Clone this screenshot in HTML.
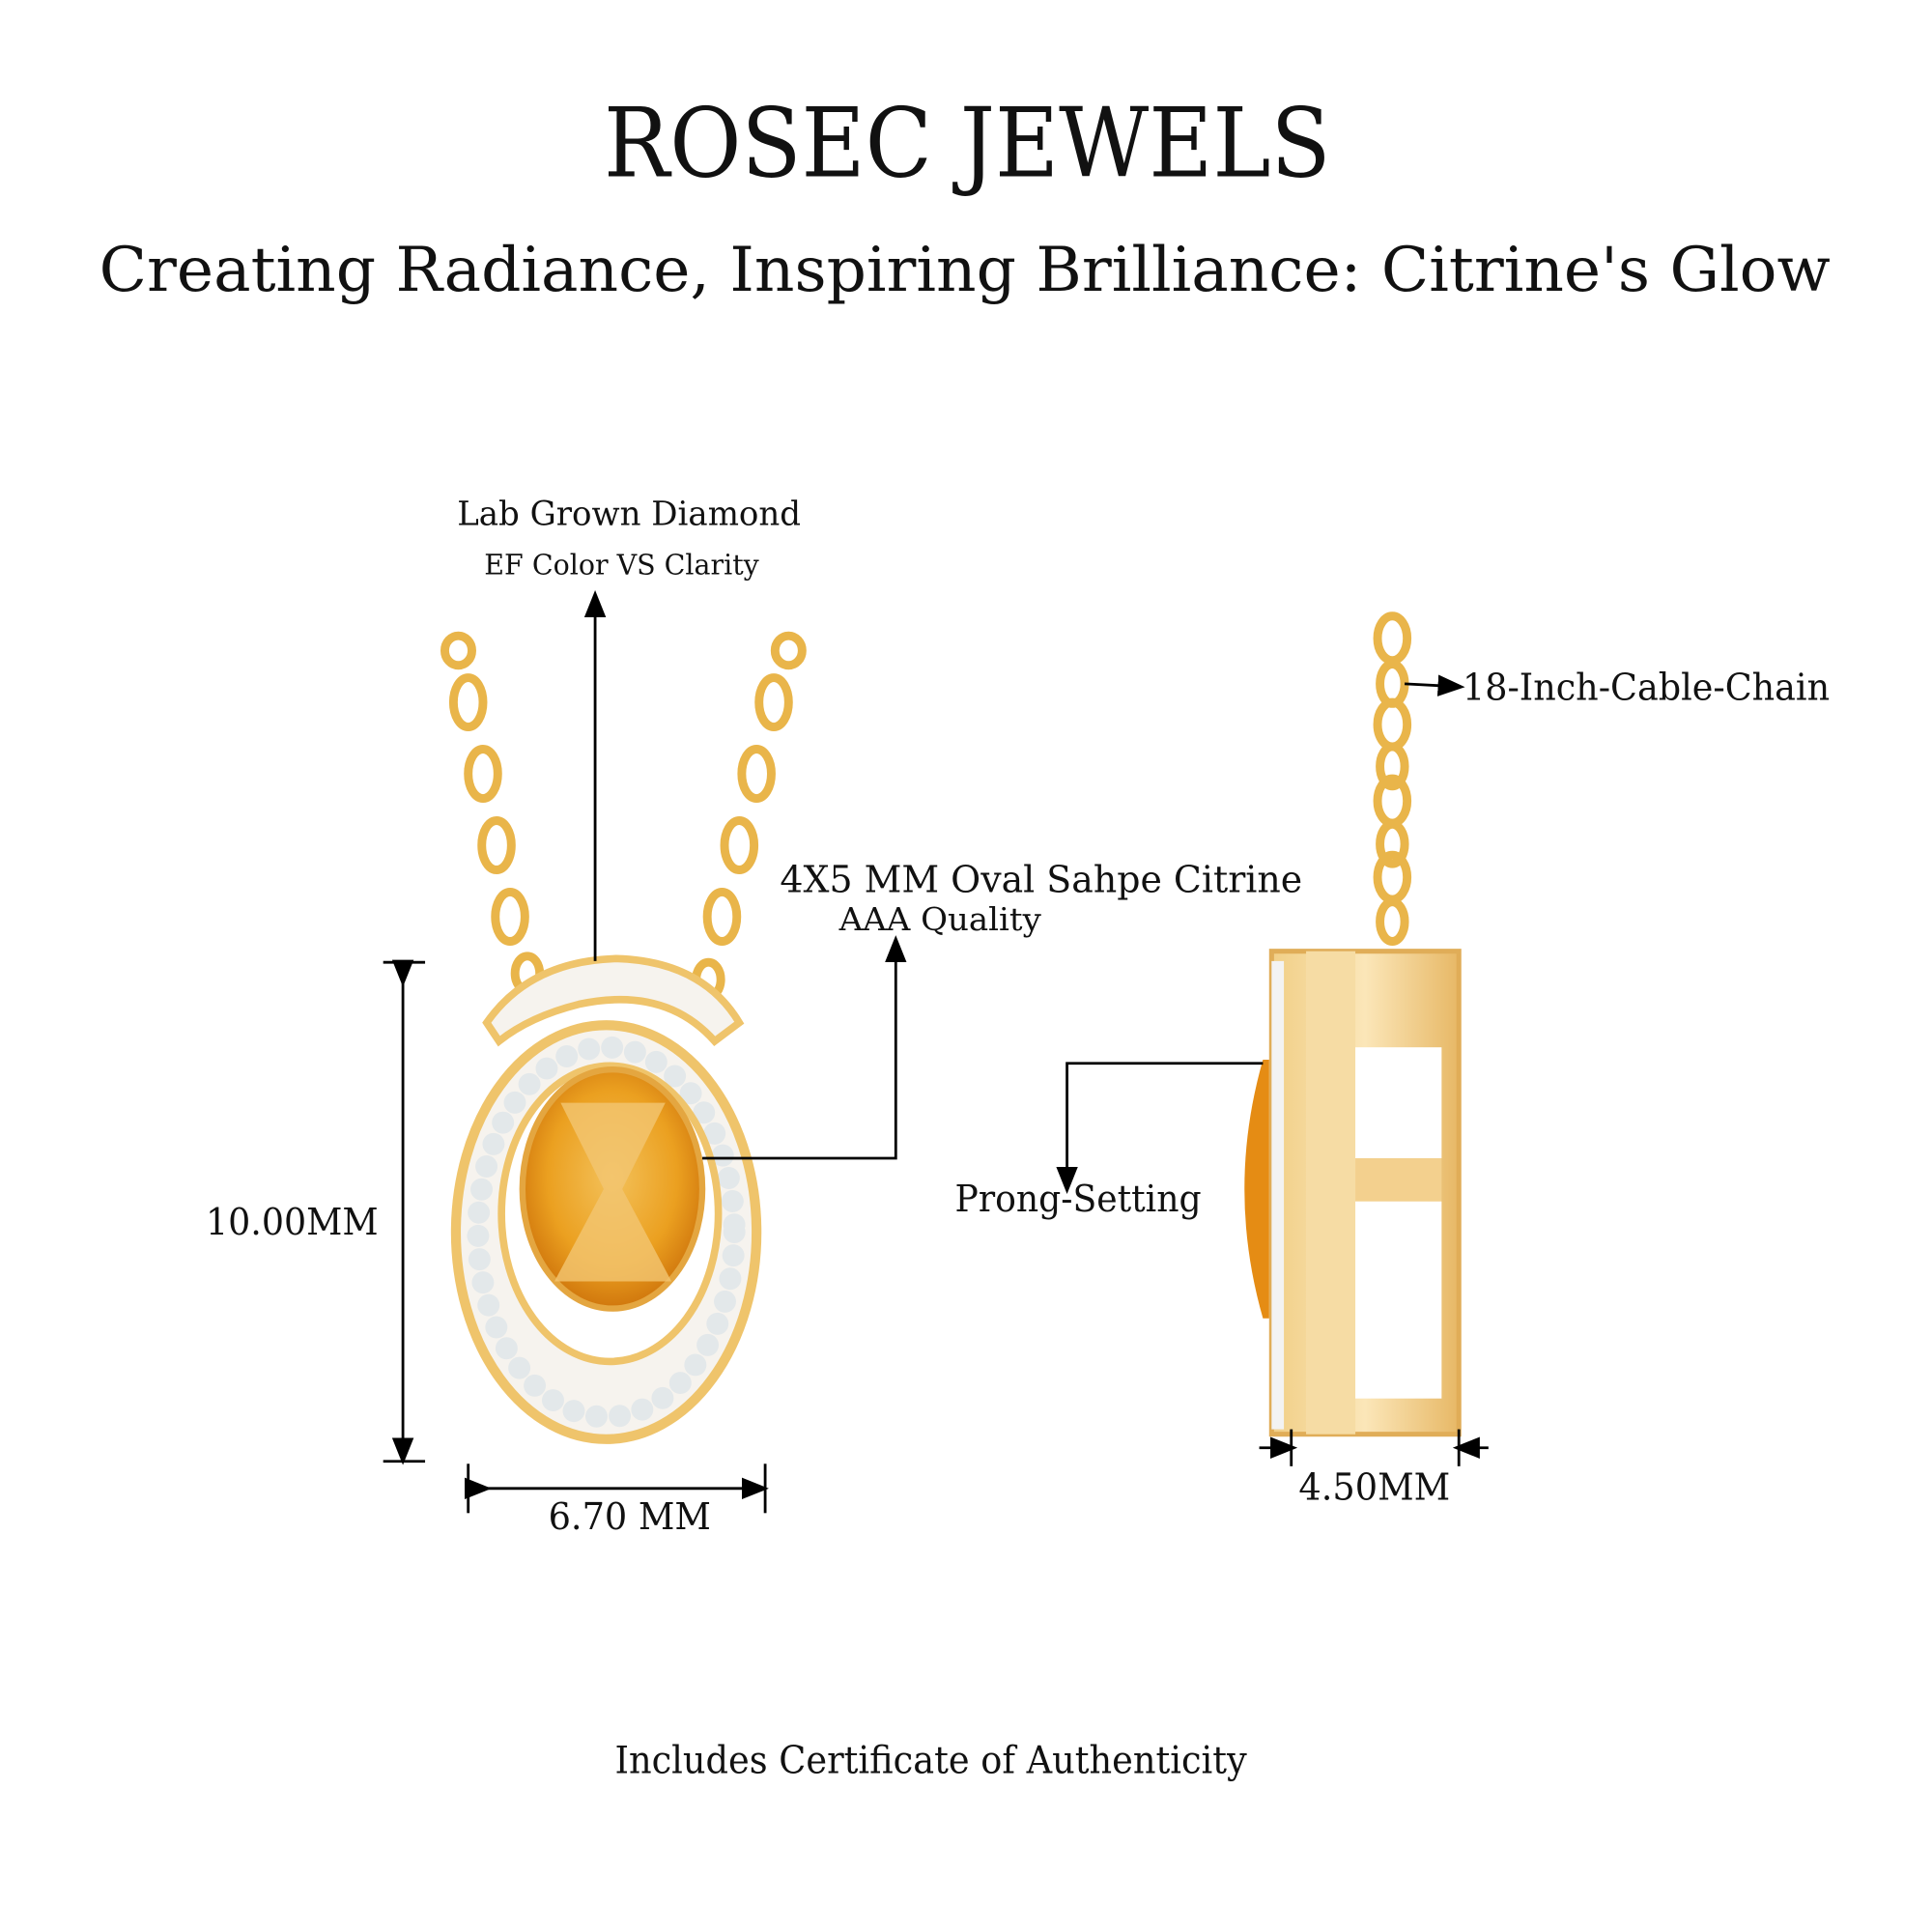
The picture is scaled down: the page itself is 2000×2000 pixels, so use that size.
<!DOCTYPE html>
<html><head><meta charset="utf-8"><style>
html,body{margin:0;padding:0;background:#fff;}
svg{display:block;}
text{font-family:"DejaVu Serif","Liberation Serif",serif;fill:#111;}
</style></head><body>
<svg width="2000" height="2000" viewBox="0 0 1568 1568" xmlns="http://www.w3.org/2000/svg">
<defs>
<radialGradient id="cit" cx="50%" cy="45%" r="60%">
<stop offset="0" stop-color="#f3c15a"/><stop offset="0.6" stop-color="#eba020"/><stop offset="1" stop-color="#c96c08"/>
</radialGradient>
<linearGradient id="gold" x1="0" y1="0" x2="1" y2="0">
<stop offset="0" stop-color="#f1cf87"/><stop offset="0.5" stop-color="#fbe6b8"/><stop offset="1" stop-color="#e7b866"/>
</linearGradient>
<marker id="ar" markerWidth="10" markerHeight="10" refX="5" refY="5" orient="auto"><path d="M0,1 L10,5 L0,9 z" fill="#000"/></marker>
</defs>
<rect width="1568" height="1568" fill="#fff"/>
<text x="785" y="143" font-size="78" text-anchor="middle" textLength="590" lengthAdjust="spacingAndGlyphs">ROSEC JEWELS</text>
<text x="783" y="236" font-size="50" text-anchor="middle" textLength="1405" lengthAdjust="spacingAndGlyphs">Creating Radiance, Inspiring Brilliance: Citrine's Glow</text>

<g fill="none" stroke="#e9b54a" stroke-width="7">
<ellipse cx="372" cy="528" rx="11" ry="12"/><ellipse cx="380" cy="570" rx="12" ry="20"/><ellipse cx="392" cy="628" rx="12" ry="20"/>
<ellipse cx="403" cy="686" rx="12" ry="20"/><ellipse cx="414" cy="744" rx="12" ry="20"/><ellipse cx="428" cy="790" rx="10" ry="14"/>
<ellipse cx="640" cy="528" rx="11" ry="12"/><ellipse cx="628" cy="570" rx="12" ry="20"/><ellipse cx="614" cy="628" rx="12" ry="20"/>
<ellipse cx="600" cy="686" rx="12" ry="20"/><ellipse cx="586" cy="744" rx="12" ry="20"/><ellipse cx="575" cy="795" rx="10" ry="14"/>
<ellipse cx="1130" cy="518" rx="12" ry="18"/><ellipse cx="1130" cy="555" rx="10" ry="16"/><ellipse cx="1130" cy="588" rx="12" ry="18"/>
<ellipse cx="1130" cy="622" rx="10" ry="16"/><ellipse cx="1130" cy="650" rx="12" ry="18"/><ellipse cx="1130" cy="685" rx="10" ry="16"/>
<ellipse cx="1130" cy="712" rx="12" ry="18"/><ellipse cx="1130" cy="748" rx="10" ry="16"/><ellipse cx="1126" cy="815" rx="14" ry="18"/>
</g>
<ellipse cx="492" cy="1000" rx="122" ry="168" fill="#f6f3ee" stroke="#efc46b" stroke-width="8"/>
<ellipse cx="492" cy="1000" rx="104" ry="150" fill="none" stroke="#e3e8ea" stroke-width="18" stroke-dasharray="0 19" stroke-linecap="round"/>
<ellipse cx="495" cy="985" rx="88" ry="120" fill="#fff" stroke="#efc46b" stroke-width="6"/>
<path d="M395,830 Q430,780 500,778 Q570,780 600,830 L580,845 Q540,800 470,815 Q430,825 405,845 Z" fill="#f6f3ee" stroke="#efc46b" stroke-width="6"/>
<ellipse cx="497" cy="965" rx="73" ry="97" fill="url(#cit)" stroke="#e4a640" stroke-width="5"/>
<path d="M455,895 L540,895 L505,965 L545,1040 L450,1040 L490,965 Z" fill="#f2c572" opacity="0.8"/>
<rect x="1032" y="772" width="152" height="392" fill="url(#gold)" stroke="#e0ad58" stroke-width="4"/>
<rect x="1060" y="772" width="40" height="392" fill="#f6dca4"/>
<rect x="1100" y="850" width="70" height="90" fill="#fff"/>
<rect x="1100" y="975" width="70" height="160" fill="#fff"/>
<rect x="1100" y="940" width="70" height="35" fill="#f3d08e"/>
<path d="M1025,860 L1030,860 L1030,1070 L1025,1070 Q995,965 1025,860 Z" fill="#e58c14"/>
<rect x="1032" y="780" width="10" height="380" fill="#f3f3f3"/>

<g stroke="#000" stroke-width="2.2" fill="none">
<line x1="483" y1="780" x2="483" y2="490" marker-end="url(#ar)"/>
<polyline points="570,940 727,940 727,770" marker-end="url(#ar)"/>
<line x1="311" y1="781" x2="345" y2="781"/><line x1="311" y1="1186" x2="345" y2="1186"/>
<line x1="327" y1="790" x2="327" y2="1178" marker-start="url(#ar)" marker-end="url(#ar)"/>
<line x1="380" y1="1188" x2="380" y2="1228"/><line x1="621" y1="1188" x2="621" y2="1228"/>
<line x1="388" y1="1208" x2="613" y2="1208" marker-start="url(#ar)" marker-end="url(#ar)"/>
<polyline points="1025,863 866,863 866,958" marker-end="url(#ar)"/>
<line x1="1140" y1="555" x2="1178" y2="557" marker-end="url(#ar)"/>
<line x1="1048" y1="1160" x2="1048" y2="1190"/><line x1="1184" y1="1160" x2="1184" y2="1190"/>
<line x1="1022" y1="1175" x2="1042" y2="1175" marker-end="url(#ar)"/>
<line x1="1208" y1="1175" x2="1190" y2="1175" marker-end="url(#ar)"/>
</g>
<text x="371" y="426" font-size="27" textLength="279" lengthAdjust="spacingAndGlyphs">Lab Grown Diamond</text>
<text x="393" y="466" font-size="23" textLength="223" lengthAdjust="spacingAndGlyphs">EF Color VS Clarity</text>
<text x="633" y="724" font-size="30" textLength="424" lengthAdjust="spacingAndGlyphs">4X5 MM Oval Sahpe Citrine</text>
<text x="681" y="755" font-size="26" textLength="164" lengthAdjust="spacingAndGlyphs">AAA Quality</text>
<text x="167" y="1002" font-size="30" textLength="140" lengthAdjust="spacingAndGlyphs">10.00MM</text>
<text x="445" y="1241" font-size="30" textLength="132" lengthAdjust="spacingAndGlyphs">6.70 MM</text>
<text x="775" y="983" font-size="30" textLength="200" lengthAdjust="spacingAndGlyphs">Prong-Setting</text>
<text x="1187" y="568" font-size="30" textLength="298" lengthAdjust="spacingAndGlyphs">18-Inch-Cable-Chain</text>
<text x="1054" y="1217" font-size="30" textLength="123" lengthAdjust="spacingAndGlyphs">4.50MM</text>
<text x="499" y="1439" font-size="31" textLength="513" lengthAdjust="spacingAndGlyphs">Includes Certificate of Authenticity</text>
</svg>
</body></html>
